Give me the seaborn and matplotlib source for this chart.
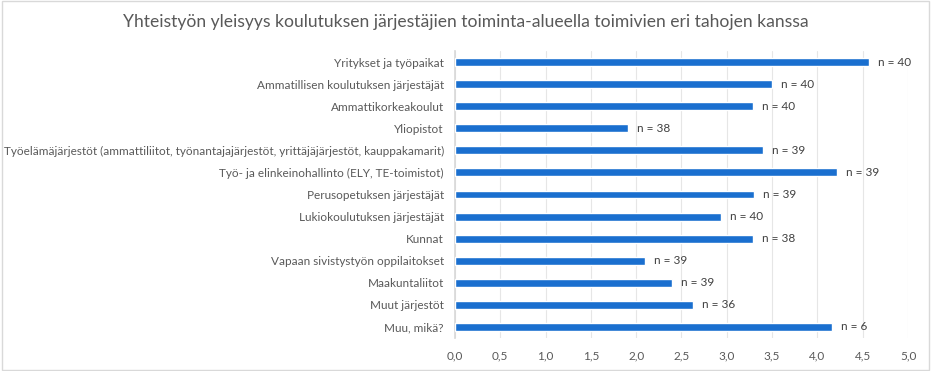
import matplotlib
matplotlib.use("Agg")
import matplotlib.pyplot as plt
import pandas as pd
import seaborn as sns
from matplotlib.patches import Rectangle

categories = [
    "Yritykset ja työpaikat",
    "Ammatillisen koulutuksen järjestäjät",
    "Ammattikorkeakoulut",
    "Yliopistot",
    "Työelämäjärjestöt (ammattiliitot, työnantajajärjestöt, yrittäjäjärjestöt, kauppakamarit)",
    "Työ- ja elinkeinohallinto (ELY, TE-toimistot)",
    "Perusopetuksen järjestäjät",
    "Lukiokoulutuksen järjestäjät",
    "Kunnat",
    "Vapaan sivistystyön oppilaitokset",
    "Maakuntaliitot",
    "Muut järjestöt",
    "Muu, mikä?",
]
values = [4.57, 3.50, 3.29, 1.91, 3.40, 4.22, 3.30, 2.94, 3.29, 2.10, 2.40, 2.63, 4.16]
n_counts = [40, 40, 40, 38, 39, 39, 39, 40, 38, 39, 39, 36, 6]
x_ticks = [0.0, 0.5, 1.0, 1.5, 2.0, 2.5, 3.0, 3.5, 4.0, 4.5, 5.0]

df = pd.DataFrame({"taho": categories, "keskiarvo": values, "n": n_counts})

sns.set_theme(style="white")
plt.rcParams["font.family"] = ["Lato", "DejaVu Sans"]

fig = plt.figure(figsize=(9.31, 3.71), dpi=100)
ax = fig.add_axes([0.4887, 0.0889, 0.4866, 0.7736])

sns.barplot(data=df, x="keskiarvo", y="taho", color="#1a6fcf", width=0.36,
            saturation=1, ax=ax, zorder=3)

for i, (v, n) in enumerate(zip(values, n_counts)):
    ax.text(v + 0.1, i, f"n = {n}", va="center", ha="left",
            fontsize=8.5, color="#404040")

ax.set_xlim(0, 5)
ax.set_xticks(x_ticks)
ax.set_xticklabels([f"{t:.1f}".replace(".", ",") for t in x_ticks])
ax.set_xlabel("")
ax.set_ylabel("")
ax.grid(axis="x", color="#e6e6e6", linewidth=0.8, zorder=0)
for s in ["top", "right", "bottom"]:
    ax.spines[s].set_visible(False)
ax.spines["left"].set_color("#d9d9d9")
ax.tick_params(axis="both", length=0, labelsize=8.5, labelcolor="#595959")
ax.tick_params(axis="x", pad=9)
ax.tick_params(axis="y", pad=8)

fig.text(0.5, 0.94, "Yhteistyön yleisyys koulutuksen järjestäjien toiminta-alueella toimivien eri tahojen kanssa",
         ha="center", va="center", fontsize=12.6, color="#595959")

fig.patches.append(Rectangle((0.002, 0.003), 0.996, 0.994, transform=fig.transFigure,
                             fill=False, edgecolor="#d9d9d9", linewidth=1))

fig.savefig("out.png", dpi=100)
plt.close(fig)
